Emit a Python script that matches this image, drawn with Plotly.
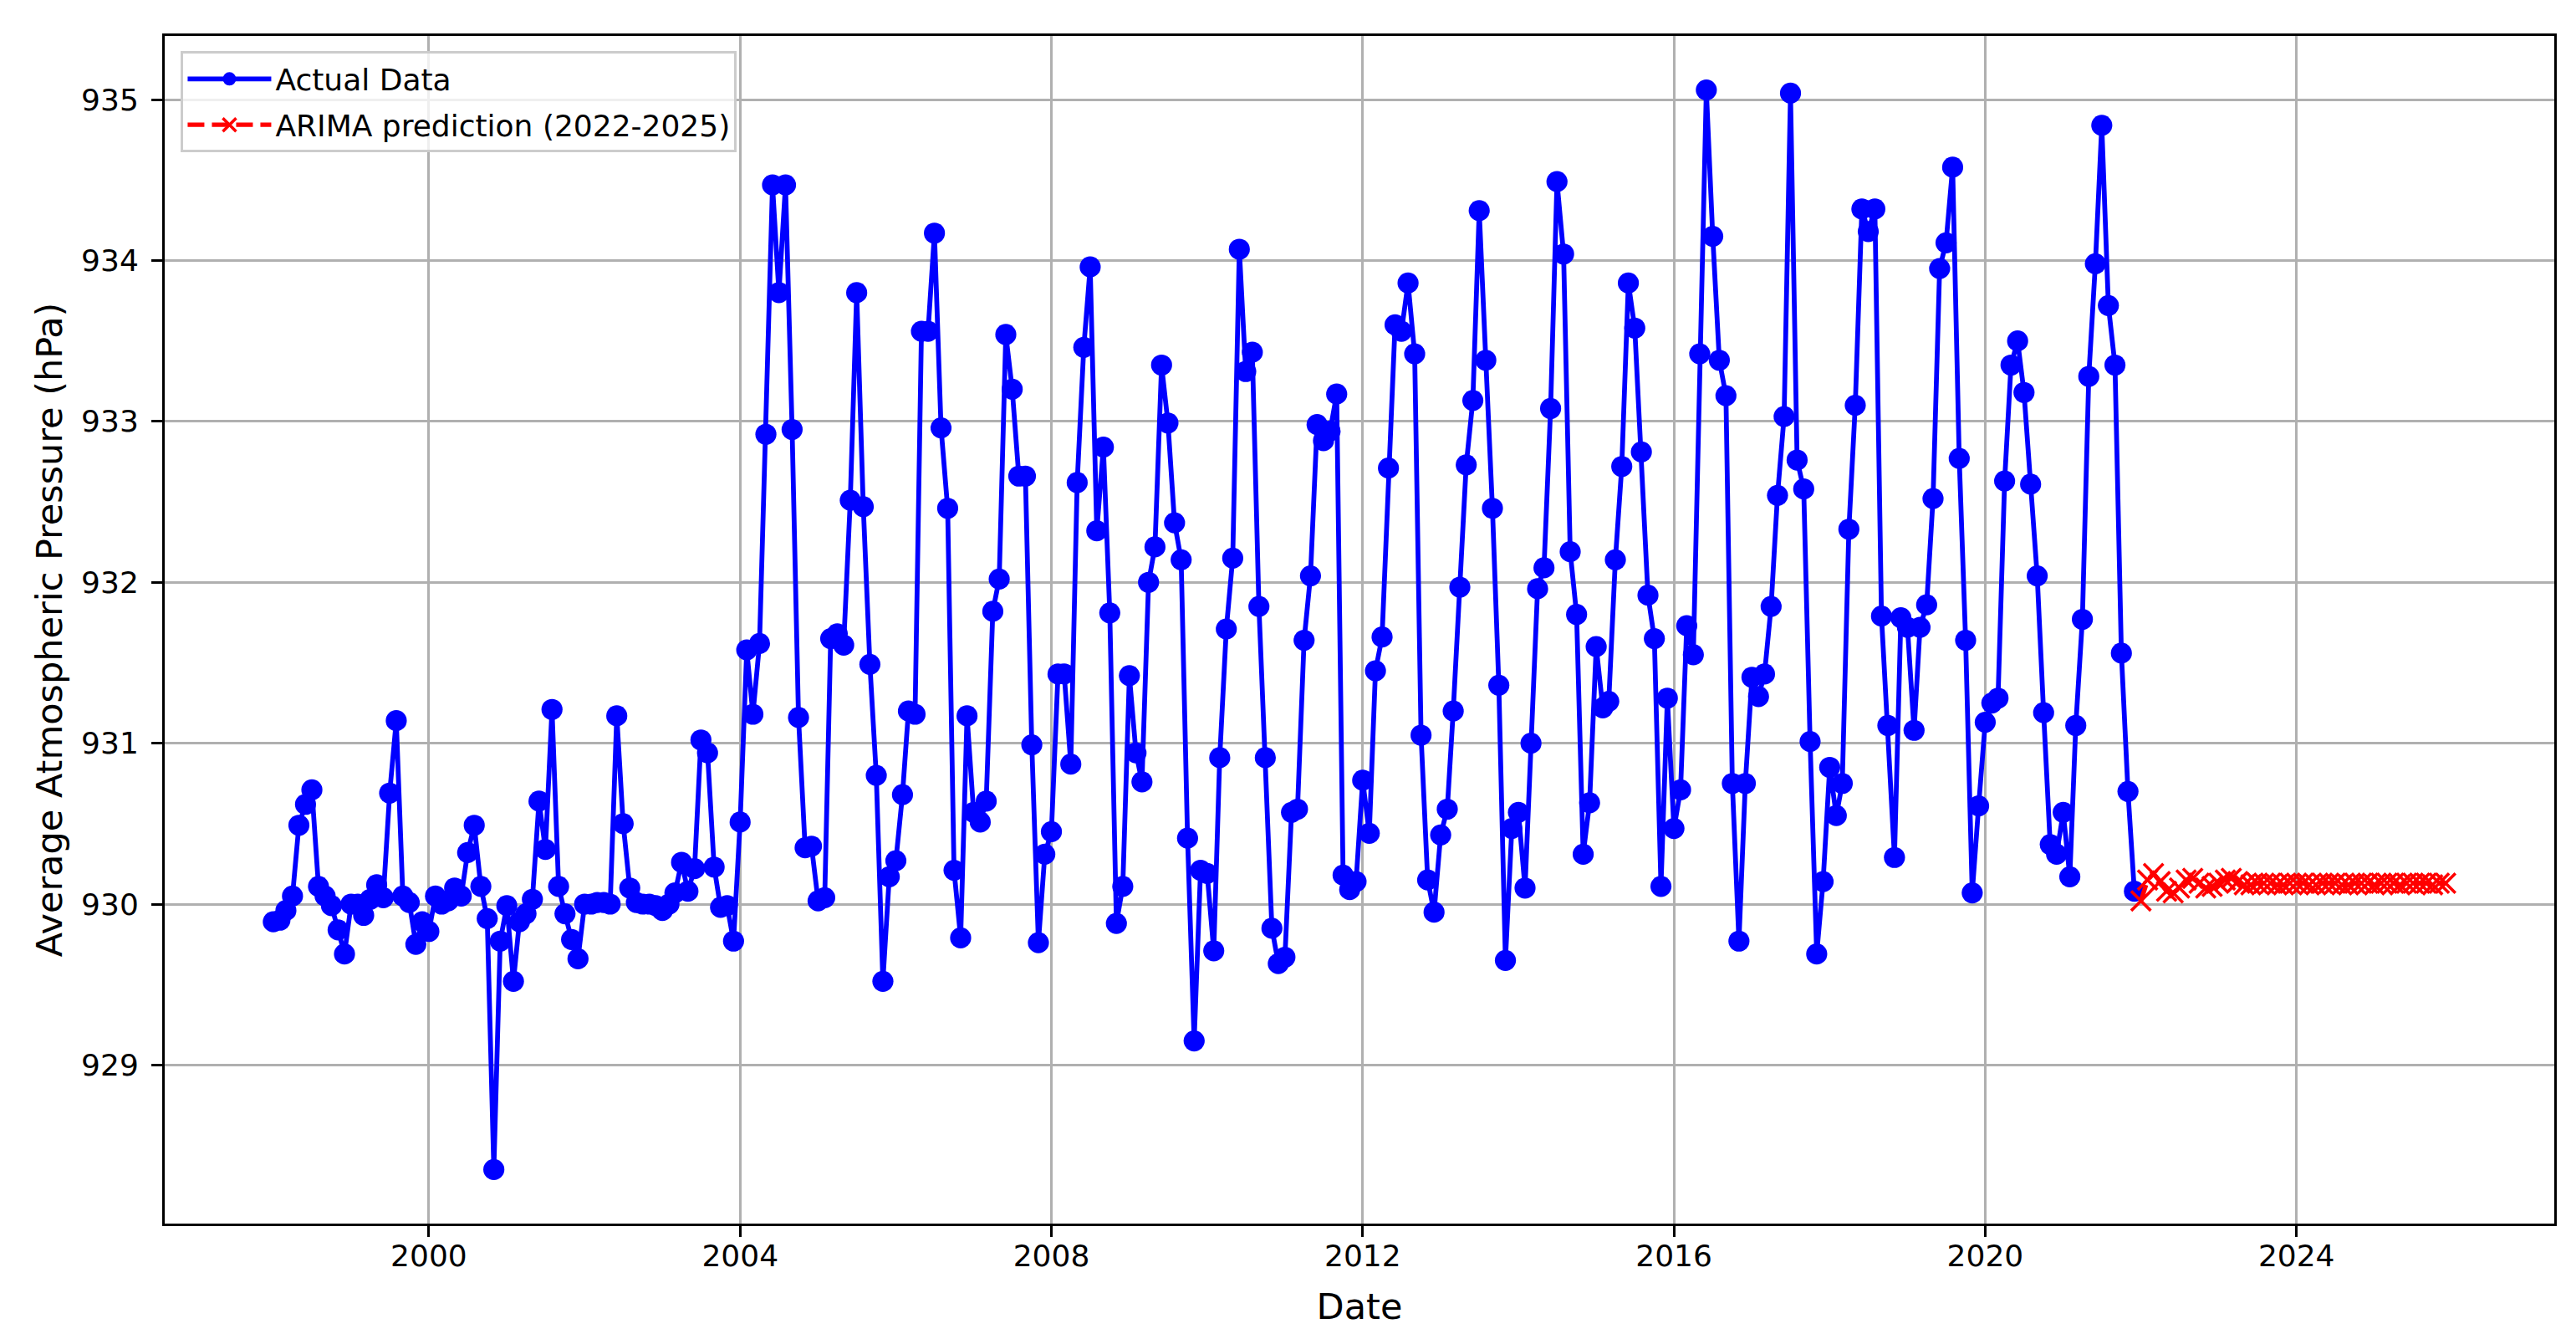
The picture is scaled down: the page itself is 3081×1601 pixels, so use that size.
import pandas as pd
import plotly.graph_objects as go

# ---------------- data ----------------
actual_start = "1998-01-01"
actual_values = [
    # 1998
    929.89, 929.90, 929.96, 930.05, 930.49, 930.62, 930.71, 930.11, 930.05, 929.99, 929.84, 929.69,
    # 1999
    930.00, 930.00, 929.93, 930.03, 930.12, 930.04, 930.69, 931.14, 930.05, 930.01, 929.75, 929.89,
    # 2000
    929.83, 930.05, 930.00, 930.02, 930.10, 930.05, 930.32, 930.49, 930.11, 929.91, 928.35, 929.77,
    # 2001
    929.99, 929.52, 929.89, 929.94, 930.03, 930.64, 930.34, 931.21, 930.11, 929.94, 929.78, 929.66,
    # 2002
    930.00, 930.00, 930.01, 930.01, 930.00, 931.17, 930.50, 930.10, 930.01, 930.00, 930.00, 929.99,
    # 2003
    929.96, 930.00, 930.07, 930.26, 930.08, 930.22, 931.02, 930.94, 930.23, 929.98, 929.99, 929.77,
    # 2004
    930.51, 931.58, 931.18, 931.62, 932.92, 934.47, 933.80, 934.47, 932.95, 931.16, 930.35, 930.36,
    # 2005
    930.02, 930.04, 931.65, 931.68, 931.61, 932.51, 933.80, 932.47, 931.49, 930.80, 929.52, 930.17,
    # 2006
    930.27, 930.68, 931.20, 931.18, 933.56, 933.56, 934.17, 932.96, 932.46, 930.21, 929.79, 931.17,
    # 2007
    930.57, 930.51, 930.64, 931.82, 932.02, 933.54, 933.20, 932.66, 932.66, 930.99, 929.76, 930.31,
    # 2008
    930.45, 931.43, 931.43, 930.87, 932.62, 933.46, 933.96, 932.32, 932.84, 931.81, 929.88, 930.11,
    # 2009
    931.42, 930.94, 930.76, 932.00, 932.22, 933.35, 932.99, 932.37, 932.14, 930.41, 929.15, 930.21,
    # 2010
    930.19, 929.71, 930.91, 931.71, 932.15, 934.07, 933.31, 933.43, 931.85, 930.91, 929.85, 929.63,
    # 2011
    929.67, 930.57, 930.59, 931.64, 932.04, 932.98, 932.88, 932.94, 933.17, 930.18, 930.09, 930.14,
    # 2012
    930.77, 930.44, 931.45, 931.66, 932.71, 933.60, 933.56, 933.86, 933.42, 931.05, 930.15, 929.95,
    # 2013
    930.43, 930.59, 931.20, 931.97, 932.73, 933.13, 934.31, 933.38, 932.46, 931.36, 929.65, 930.47,
    # 2014
    930.57, 930.10, 931.00, 931.96, 932.09, 933.08, 934.49, 934.04, 932.19, 931.80, 930.31, 930.63,
    # 2015
    931.60, 931.22, 931.26, 932.14, 932.72, 933.86, 933.58, 932.81, 931.92, 931.65, 930.11, 931.28,
    # 2016
    930.47, 930.71, 931.73, 931.55, 933.42, 935.06, 934.15, 933.38, 933.16, 930.75, 929.77, 930.75,
    # 2017
    931.41, 931.29, 931.43, 931.85, 932.54, 933.03, 935.04, 932.76, 932.58, 931.01, 929.69, 930.14,
    # 2018
    930.85, 930.55, 930.75, 932.33, 933.10, 934.32, 934.18, 934.32, 931.79, 931.11, 930.29, 931.78,
    # 2019
    931.72, 931.08, 931.72, 931.86, 932.52, 933.95, 934.11, 934.58, 932.77, 931.64, 930.07, 930.61,
    # 2020
    931.13, 931.25, 931.28, 932.63, 933.35, 933.50, 933.18, 932.61, 932.04, 931.19, 930.37, 930.31,
    # 2021
    930.57, 930.17, 931.11, 931.77, 933.28, 933.98, 934.84, 933.72, 933.35, 931.56, 930.70, 930.08,
]

forecast_start = "2022-01-01"
forecast_values = [
    930.02, 930.15, 930.19, 930.14, 930.08, 930.07, 930.10, 930.15, 930.16, 930.13, 930.10, 930.11,
    930.13, 930.15, 930.16, 930.14, 930.12, 930.12, 930.13, 930.13, 930.13, 930.12, 930.12, 930.13,
    930.13, 930.13, 930.12, 930.12, 930.13, 930.13, 930.13, 930.12, 930.12, 930.13, 930.13, 930.13,
    930.12, 930.13, 930.13, 930.13, 930.12, 930.13, 930.13, 930.13, 930.13, 930.12, 930.13, 930.13,
]

x_tick_years = [2000, 2004, 2008, 2012, 2016, 2020, 2024]
y_tick_values = [929, 930, 931, 932, 933, 934, 935]

actual_label = "Actual Data"
forecast_label = "ARIMA prediction (2022-2025)"
x_title = "Date"
y_title = "Average Atmospheric Pressure (hPa)"

# ---------------- build ----------------
actual_dates = pd.date_range(actual_start, periods=len(actual_values), freq="MS")
forecast_dates = pd.date_range(forecast_start, periods=len(forecast_values), freq="MS")

FONT = "DejaVu Sans"
PT = 3.6  # px per point

fig = go.Figure()
fig.add_trace(go.Scatter(
    x=actual_dates, y=actual_values, name=actual_label,
    mode="lines+markers", legendgroup="actual",
    line=dict(color="#0000ff", width=1.6 * PT),
    marker=dict(symbol="circle", size=7 * PT, color="#0000ff"),
))
fig.add_trace(go.Scatter(
    x=forecast_dates, y=forecast_values, name=forecast_label,
    mode="lines+markers", legendgroup="forecast",
    line=dict(color="#ff0000", width=1.5 * PT, dash="20px,9px"),
    marker=dict(symbol="x-thin", size=6.5 * PT, color="#ff0000",
                line=dict(color="#ff0000", width=1.0 * PT)),
))

# matplotlib-style 5% margins
xmin = actual_dates.min()
xmax = forecast_dates.max()
xpad = (xmax - xmin) * 0.05
all_vals = actual_values + forecast_values
ymin, ymax = min(all_vals), max(all_vals)
ypad = (ymax - ymin) * 0.05

tick_font = dict(family=FONT, size=36, color="black")
title_font = dict(family=FONT, size=43, color="black")

fig.update_layout(
    width=3081, height=1601,
    margin=dict(l=197, r=26, t=43, b=138),
    paper_bgcolor="white", plot_bgcolor="white",
    font=dict(family=FONT, color="black"),
    showlegend=True,
    legend=dict(
        x=0.0068, y=0.987, xanchor="left", yanchor="top",
        bgcolor="rgba(255,255,255,0.8)", bordercolor="#cccccc", borderwidth=3,
        font=dict(family=FONT, size=36, color="black"),
        itemwidth=100, tracegroupgap=5,
    ),
    xaxis=dict(
        range=[xmin - xpad, xmax + xpad],
        tickvals=[pd.Timestamp(f"{y}-01-01") for y in x_tick_years],
        ticktext=[str(y) for y in x_tick_years],
        showgrid=True, gridcolor="#b0b0b0", gridwidth=3,
        showline=True, mirror=True, linecolor="black", linewidth=3,
        ticks="outside", ticklen=13, tickwidth=3, tickcolor="black",
        tickfont=tick_font, zeroline=False,
        title=dict(text=x_title, font=title_font, standoff=26),
        ticklabelstandoff=-8,
    ),
    yaxis=dict(
        range=[ymin - ypad, ymax + ypad],
        tickvals=y_tick_values,
        ticktext=[str(v) for v in y_tick_values],
        showgrid=True, gridcolor="#b0b0b0", gridwidth=3,
        showline=True, mirror=True, linecolor="black", linewidth=3,
        ticks="outside", ticklen=13, tickwidth=3, tickcolor="black",
        tickfont=tick_font, zeroline=False,
        title=dict(text=y_title, font=title_font, standoff=10),
        ticklabelstandoff=8,
    ),
)

fig.write_html(
    "out.html",
    config={"displayModeBar": False},
    post_script="document.body.style.margin='0';document.body.style.overflow='hidden';",
)
